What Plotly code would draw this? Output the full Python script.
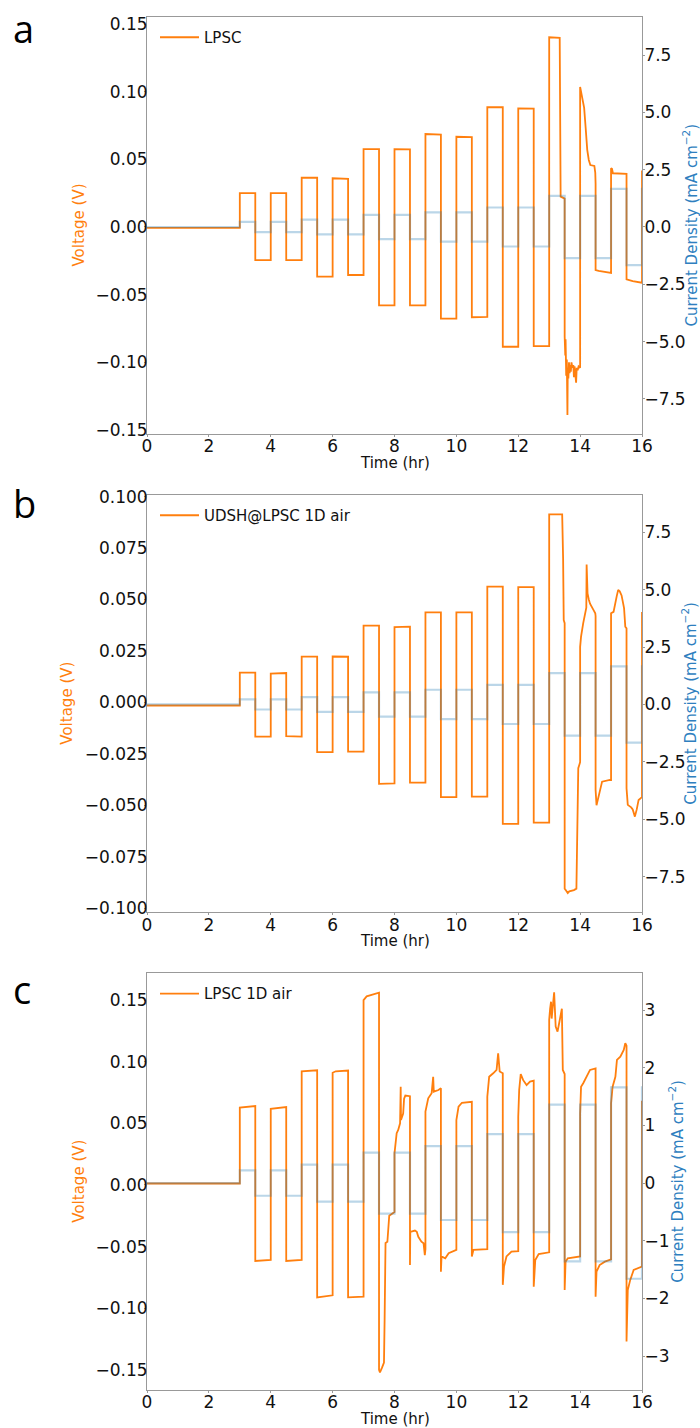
import plotly.graph_objects as go

# ---------------------------------------------------------------------------
# Data: cell voltage (V) vs time (hr) for three symmetric-cell step tests,
# plus the applied current density (mA cm^-2) as a step profile.
# ---------------------------------------------------------------------------

# step boundaries of the applied current (hr)
step_time_hr = [0.0, 3.0, 3.5, 4.0, 4.5, 5.0, 5.5, 6.0, 6.5, 7.0, 7.5, 8.0, 8.5,
                9.0, 9.5, 10.0, 10.5, 11.0, 11.5, 12.0, 12.5, 13.0, 13.5, 14.0,
                14.5, 15.0, 15.5, 16.0, 16.5]

# applied current density for each step (mA cm^-2)
current_density = [0.0,
                   0.22, -0.22, 0.22, -0.22,
                   0.32, -0.32, 0.32, -0.32,
                   0.53, -0.53, 0.53, -0.53,
                   0.64, -0.64, 0.64, -0.64,
                   0.85, -0.85, 0.85, -0.85,
                   1.36, -1.36, 1.36, -1.36,
                   1.66, -1.66, 1.66, 1.66]

# (time hr, voltage V)
lpsc = [
    (0.0, -0.0006), (3.0, -0.0006),
    (3.0, 0.0250), (3.5, 0.0250), (3.5, -0.0245), (4.0, -0.0245),
    (4.0, 0.0250), (4.5, 0.0250), (4.5, -0.0245), (5.0, -0.0245),
    (5.0, 0.0364), (5.5, 0.0364), (5.5, -0.0367), (6.0, -0.0367),
    (6.0, 0.0360), (6.5, 0.0355), (6.5, -0.0355), (7.0, -0.0355),
    (7.0, 0.0576), (7.5, 0.0576), (7.5, -0.0580), (8.0, -0.0580),
    (8.0, 0.0576), (8.5, 0.0574), (8.5, -0.0580), (9.0, -0.0580),
    (9.0, 0.0687), (9.5, 0.0682), (9.5, -0.0677), (10.0, -0.0677),
    (10.0, 0.0667), (10.5, 0.0665), (10.5, -0.0667), (11.0, -0.0665),
    (11.0, 0.0885), (11.5, 0.0885), (11.5, -0.0885), (12.0, -0.0885),
    (12.0, 0.0877), (12.5, 0.0875), (12.5, -0.0880), (13.0, -0.0880),
    (13.0, 0.1402), (13.34, 0.1398), (13.37, 0.0224), (13.5, 0.0210),
    (13.5, -0.081), (13.52, -0.095), (13.53, -0.083), (13.55, -0.110),
    (13.57, -0.098), (13.59, -0.139), (13.60, -0.104), (13.62, -0.112),
    (13.64, -0.100), (13.66, -0.108), (13.68, -0.102), (13.70, -0.107),
    (13.72, -0.100), (13.75, -0.104), (13.78, -0.102), (13.80, -0.111),
    (13.82, -0.103), (13.85, -0.108), (13.87, -0.115), (13.89, -0.104),
    (13.92, -0.106), (13.95, -0.103), (14.0, -0.104),
    (14.0, 0.1035), (14.07, 0.0940), (14.10, 0.0916), (14.13, 0.0880),
    (14.18, 0.0730), (14.23, 0.0570), (14.28, 0.0495), (14.33, 0.0458),
    (14.46, 0.0451), (14.49, 0.0400), (14.5, 0.0320),
    (14.5, -0.0318), (14.6, -0.0325), (14.8, -0.0335), (15.0, -0.0340),
    (15.0, 0.0434), (15.03, 0.0430), (15.06, 0.0397), (15.5, 0.0393),
    (15.5, -0.0387), (15.7, -0.0400), (16.0, -0.0412),
    (16.0, 0.0410), (16.4, 0.0410),
]

udsh_lpsc_1d_air = [
    (0.0, -0.0015), (3.0, -0.0015),
    (3.0, 0.0145), (3.5, 0.0145), (3.5, -0.0166), (4.0, -0.0166),
    (4.0, 0.0140), (4.5, 0.0143), (4.5, -0.0164), (5.0, -0.0166),
    (5.0, 0.0223), (5.5, 0.0223), (5.5, -0.0242), (6.0, -0.0242),
    (6.0, 0.0223), (6.5, 0.0222), (6.5, -0.0239), (7.0, -0.0239),
    (7.0, 0.0373), (7.5, 0.0373), (7.5, -0.0396), (8.0, -0.0394),
    (8.0, 0.0366), (8.5, 0.0368), (8.5, -0.0390), (9.0, -0.0390),
    (9.0, 0.0438), (9.5, 0.0438), (9.5, -0.0460), (10.0, -0.0460),
    (10.0, 0.0438), (10.5, 0.0438), (10.5, -0.0458), (11.0, -0.0458),
    (11.0, 0.0563), (11.5, 0.0563), (11.5, -0.0590), (12.0, -0.0590),
    (12.0, 0.0560), (12.5, 0.0560), (12.5, -0.0584), (13.0, -0.0584),
    (13.0, 0.0914), (13.42, 0.0914), (13.45, 0.0700), (13.47, 0.0400), (13.5, 0.0385),
    (13.5, -0.0905), (13.55, -0.0915), (13.6, -0.0926), (13.65, -0.0918),
    (13.8, -0.0912), (13.88, -0.0905), (13.90, -0.0700), (13.92, -0.0420),
    (13.94, -0.0320), (13.98, -0.0300), (14.0, -0.0290),
    (14.0, 0.0270), (14.03, 0.0320), (14.10, 0.0385), (14.16, 0.0440),
    (14.20, 0.0460), (14.21, 0.0670), (14.24, 0.0530), (14.28, 0.0500),
    (14.32, 0.0480), (14.43, 0.0450), (14.49, 0.0433), (14.5, 0.0420),
    (14.5, -0.0425), (14.53, -0.0500), (14.59, -0.0460), (14.66, -0.0430),
    (14.71, -0.0385), (14.96, -0.0377), (15.0, -0.0377),
    (15.0, 0.0433), (15.08, 0.0440), (15.18, 0.0514), (15.23, 0.0547),
    (15.28, 0.0540), (15.34, 0.0520), (15.42, 0.0458), (15.46, 0.0368), (15.5, 0.0360),
    (15.5, -0.0417), (15.54, -0.0498), (15.65, -0.0510), (15.70, -0.0520),
    (15.77, -0.0555), (15.83, -0.0520), (15.89, -0.0474), (16.0, -0.0460),
    (16.0, 0.0435), (16.4, 0.0435),
]

lpsc_1d_air = [
    (0.0, 0.0012), (3.0, 0.0012),
    (3.0, 0.0628), (3.5, 0.0640), (3.5, -0.0616), (4.0, -0.0608),
    (4.0, 0.0618), (4.5, 0.0632), (4.5, -0.0616), (5.0, -0.0608),
    (5.0, 0.0922), (5.5, 0.0930), (5.5, -0.0912), (6.0, -0.0895),
    (6.0, 0.0910), (6.1, 0.0922), (6.5, 0.0928), (6.5, -0.0912), (7.0, -0.0906),
    (7.0, 0.1500), (7.1, 0.1530), (7.5, 0.1560),
    (7.5, -0.1500), (7.53, -0.1520), (7.6, -0.1480), (7.66, -0.1440),
    (7.68, -0.1100), (7.71, -0.0470), (7.77, -0.0460), (7.80, -0.0300),
    (7.83, -0.0250), (8.0, -0.0220),
    (8.0, 0.0257), (8.07, 0.0420), (8.12, 0.0446), (8.18, 0.0500),
    (8.20, 0.0797), (8.21, 0.0527), (8.28, 0.0580), (8.31, 0.0700),
    (8.35, 0.0725), (8.5, 0.0720),
    (8.5, -0.0650), (8.51, -0.0380), (8.66, -0.0370), (8.72, -0.0380),
    (8.77, -0.0420), (8.87, -0.0460), (8.94, -0.0473), (8.98, -0.0570), (9.0, -0.0520),
    (9.0, 0.0595), (9.09, 0.0703), (9.20, 0.0744), (9.25, 0.0878),
    (9.27, 0.0757), (9.42, 0.0770), (9.5, 0.0784),
    (9.5, -0.0703), (9.52, -0.0580), (9.64, -0.0595), (9.75, -0.0554), (10.0, -0.0527),
    (10.0, 0.0527), (10.07, 0.0635), (10.18, 0.0667), (10.5, 0.0675),
    (10.5, -0.0580), (10.55, -0.0527), (11.0, -0.0520),
    (11.0, 0.0716), (11.06, 0.0878), (11.19, 0.0906), (11.30, 0.0933),
    (11.35, 0.1068), (11.40, 0.0920), (11.5, 0.0906),
    (11.5, -0.0810), (11.54, -0.0662), (11.62, -0.0580), (11.78, -0.0540), (12.0, -0.0536),
    (12.0, 0.0554), (12.03, 0.0770), (12.08, 0.0900), (12.16, 0.0850),
    (12.27, 0.0810), (12.38, 0.0838), (12.5, 0.0846),
    (12.5, -0.0825), (12.55, -0.0608), (12.66, -0.0560), (13.0, -0.0546),
    (13.0, 0.1340), (13.03, 0.1430), (13.06, 0.1487), (13.08, 0.1350),
    (13.12, 0.1490), (13.16, 0.1563), (13.21, 0.1284), (13.27, 0.1244),
    (13.32, 0.1310), (13.41, 0.1430), (13.44, 0.0933), (13.5, 0.0900),
    (13.5, -0.0852), (13.53, -0.0622), (13.6, -0.0595), (14.0, -0.0580),
    (14.0, 0.0580), (14.03, 0.0797), (14.10, 0.0825), (14.20, 0.0878),
    (14.32, 0.0933), (14.5, 0.0946),
    (14.5, -0.0906), (14.53, -0.0703), (14.63, -0.0650), (14.8, -0.0622), (15.0, -0.0603),
    (15.0, 0.0662), (15.05, 0.0797), (15.14, 0.0878), (15.19, 0.1014),
    (15.30, 0.1040), (15.41, 0.1095), (15.46, 0.1150), (15.5, 0.1130),
    (15.5, -0.1270), (15.54, -0.0852), (15.62, -0.0770), (15.73, -0.0690), (16.0, -0.0662),
    (16.0, 0.0675), (16.4, 0.0675),
]

panels = [
    # letter, legend name, trace, voltage range, voltage dtick, fmt, current range, current dtick, fmt
    ("a", "LPSC", lpsc, [-0.1530, 0.1552], 0.05, ".2f", [-9.03, 9.16], 2.5, ".1f"),
    ("b", "UDSH@LPSC 1D air", udsh_lpsc_1d_air, [-0.1020, 0.1008], 0.025, ".3f", [-9.05, 9.12], 2.5, ".1f"),
    ("c", "LPSC 1D air", lpsc_1d_air, [-0.1663, 0.1717], 0.05, ".2f", [-3.59, 3.64], 1, "d"),
]

# ---------------------------------------------------------------------------
# Layout geometry (pixels on a 700 x 1428 canvas)
# ---------------------------------------------------------------------------
W, H = 700, 1428
PLOT_LEFT, PLOT_RIGHT = 147, 642
panel_tops = [17, 495, 973.3]
panel_bottoms = [434, 912.3, 1390]
letter_centers_y = [28, 503, 989]
volt_title_x = [78, 67, 79]
curr_title_x = [690, 689, 676]

ORANGE = "#ff7f0e"
BLUE_TXT = "#2f7fbf"
BLUE_LINE = "rgba(31,119,180,0.30)"
SPINE = "#999999"
TICK_FONT = dict(family="DejaVu Sans", size=17, color="#111111")
LABEL_FONT = 15


def px_x(x):
    return x / W


def px_y(y):
    return 1 - y / H


fig = go.Figure()
annotations = []

for i, (letter, name, series, vrange, vdt, vfmt, crange, cdt, cfmt) in enumerate(panels):
    n = i + 1
    xa = "x" if n == 1 else f"x{n}"
    ya_left = f"y{2 * n - 1}" if n > 1 else "y"
    ya_right = f"y{2 * n}"
    legend_id = "legend" if n == 1 else f"legend{n}"

    t_vals = [p[0] for p in series]
    v_vals = [p[1] for p in series]

    fig.add_trace(go.Scatter(
        x=t_vals, y=v_vals, mode="lines", name=name,
        line=dict(color=ORANGE, width=1.8),
        xaxis=xa, yaxis=ya_left, legend=legend_id, showlegend=True,
    ))
    fig.add_trace(go.Scatter(
        x=step_time_hr, y=current_density, mode="lines", name="Current density",
        line=dict(color=BLUE_LINE, width=2.2, shape="hv"),
        xaxis=xa, yaxis=ya_right, showlegend=False,
    ))

    top, bottom = panel_tops[i], panel_bottoms[i]
    dom_y = [px_y(bottom), px_y(top)]
    xkey = "xaxis" if n == 1 else f"xaxis{n}"
    ylkey = "yaxis" if n == 1 else f"yaxis{2 * n - 1}"
    yrkey = f"yaxis{2 * n}"

    common = dict(showgrid=False, zeroline=False, showline=True, linecolor=SPINE,
                  linewidth=1, ticks="outside", ticklen=2, tickcolor=SPINE,
                  tickfont=TICK_FONT, automargin=False)

    fig.update_layout(**{
        xkey: dict(domain=[px_x(PLOT_LEFT), px_x(PLOT_RIGHT)], range=[0, 16],
                   tick0=0, dtick=2, anchor=ya_left, mirror=True,
                   ticklabelstandoff=-5, **common),
        ylkey: dict(domain=dom_y, range=vrange, tick0=0, dtick=vdt, tickformat=vfmt,
                    anchor=xa, mirror=True, ticklabelstandoff=-7, **common),
        yrkey: dict(domain=dom_y, range=crange, tick0=0, dtick=cdt, tickformat=cfmt,
                    anchor=xa, overlaying=ya_left, side="right",
                    ticklabelstandoff=-4, **common),
        legend_id: dict(x=px_x(155), y=px_y(top + 4), xanchor="left", yanchor="top",
                        itemwidth=39, bgcolor="rgba(0,0,0,0)", borderwidth=0,
                        font=dict(family="DejaVu Sans", size=15, color="#111111")),
    })

    mid = (top + bottom) / 2
    annotations += [
        dict(text=letter, x=px_x(11), y=px_y(letter_centers_y[i]), xref="paper", yref="paper",
             xanchor="left", yanchor="middle", showarrow=False,
             font=dict(family="Open Sans", size=38, color="#000000")),
        dict(text="Voltage (V)", x=px_x(volt_title_x[i]), y=px_y(mid), xref="paper",
             yref="paper", xanchor="center", yanchor="middle", textangle=-90,
             showarrow=False, font=dict(family="DejaVu Sans", size=LABEL_FONT, color=ORANGE)),
        dict(text="Current Density (mA cm<sup>\u22122</sup>)", x=px_x(curr_title_x[i]),
             y=px_y(mid), xref="paper", yref="paper", xanchor="center", yanchor="middle",
             textangle=-90, showarrow=False,
             font=dict(family="DejaVu Sans", size=LABEL_FONT, color=BLUE_TXT)),
        dict(text="Time (hr)", x=px_x((PLOT_LEFT + PLOT_RIGHT) / 2), y=px_y(bottom + 29),
             xref="paper", yref="paper", xanchor="center", yanchor="middle",
             showarrow=False, font=dict(family="DejaVu Sans", size=LABEL_FONT, color="#111111")),
    ]

fig.update_layout(
    width=W, height=H,
    margin=dict(l=0, r=0, t=0, b=0, autoexpand=False),
    paper_bgcolor="white", plot_bgcolor="white",
    annotations=annotations,
)

# page body without the default browser margin so the figure fills the window
fig.write_html("out.html", post_script="document.body.style.margin='0';")
